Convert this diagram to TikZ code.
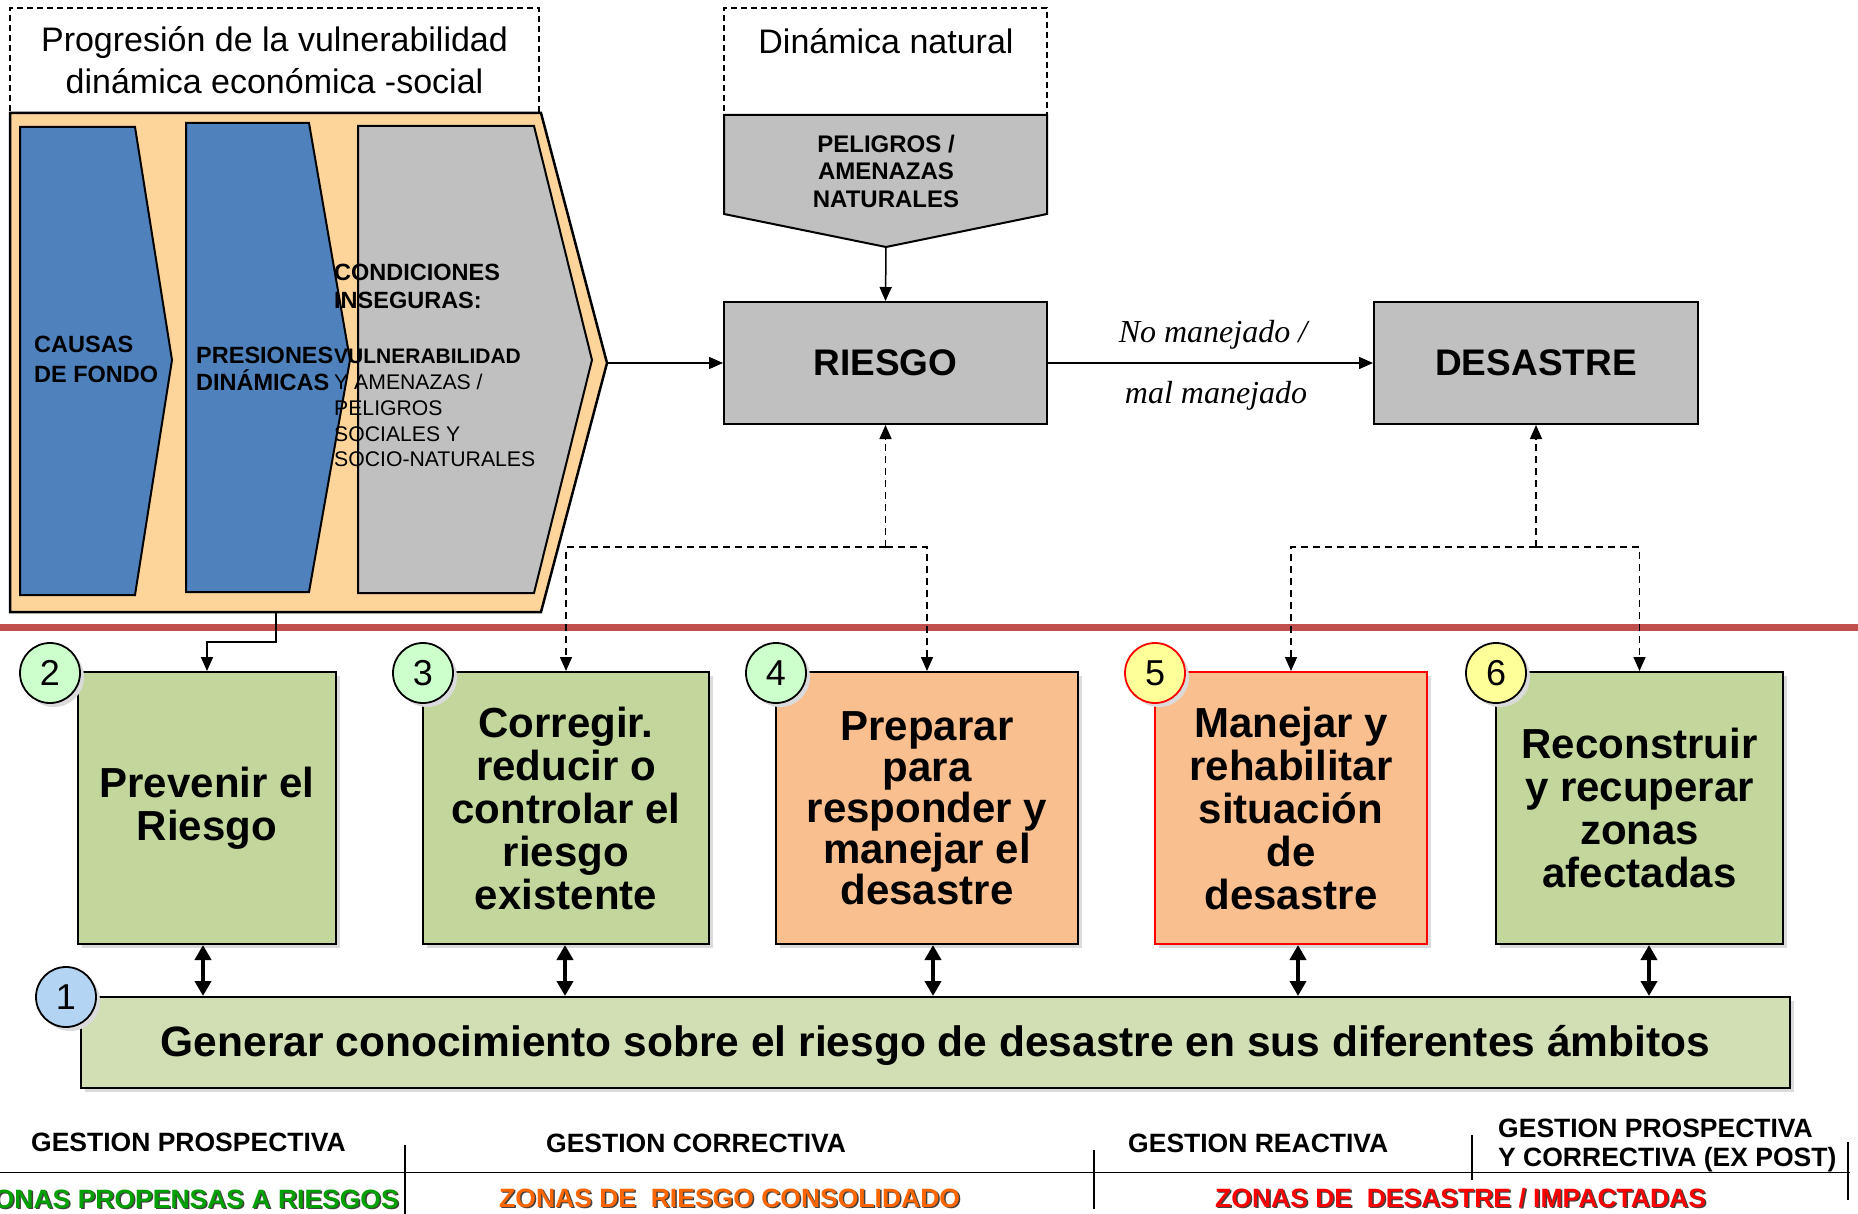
\documentclass[tikz,border=0pt]{standalone}
\usepackage{fontspec}
\setmainfont{Liberation Sans}
\newfontfamily\seriffam{Liberation Serif}
\usetikzlibrary{arrows.meta,shadows,calc}
\definecolor{orbg}{HTML}{FDD59B}
\definecolor{cblue}{HTML}{4F81BD}
\definecolor{cgray}{HTML}{C0C0C0}
\definecolor{bgreen}{HTML}{C3D69B}
\definecolor{borange}{HTML}{FABF8F}
\definecolor{bgen}{HTML}{D2DFB4}
\definecolor{cgreenc}{HTML}{CCFFCC}
\definecolor{cyel}{HTML}{FFFF99}
\definecolor{cbluec}{HTML}{B4D4F4}
\definecolor{redline}{HTML}{C0504D}
\definecolor{zgreen}{RGB}{0,160,0}
\definecolor{zorange}{RGB}{255,102,0}
\definecolor{zred}{RGB}{255,0,0}
\newcommand\myfs[2]{\fontsize{#1}{#2}\selectfont}
\begin{document}
\begin{tikzpicture}[x=1pt,y=-1pt,
  shad/.style={drop shadow={shadow xshift=4pt,shadow yshift=-4pt,fill=black!14,opacity=1}},
  boxst/.style={draw=black,line width=2pt,minimum height=272pt,align=center,inner sep=0pt,
    font={\bfseries\myfs{42}{43}},shad},
  circst/.style={circle,draw=black,line width=1.8pt,minimum size=60pt,inner sep=0pt,
    font={\myfs{36}{36}},shad},
  arr/.style={line width=1.5pt,-{Triangle[length=14pt,width=12pt]}},
  darr/.style={arr,dash pattern=on 7pt off 5pt},
  dblarr/.style={line width=4pt,{Triangle[length=15pt,width=16pt]}-{Triangle[length=15pt,width=16pt]}},
  chev/.style={line width=2pt,line join=miter},
  lbl/.style={inner sep=0pt,anchor=base west,font={\bfseries\myfs{23.5}{28}}},
  lbls/.style={inner sep=0pt,anchor=base west,font={\bfseries\myfs{21}{26}}},
  lblr/.style={inner sep=0pt,anchor=base west,font={\myfs{21.2}{26}}},
  gst/.style={inner sep=0pt,anchor=base west,font={\bfseries\myfs{26.5}{30}}},
  zst/.style={inner sep=0pt,font={\bfseries\myfs{26.5}{30}}}
]
\useasboundingbox (0,0) rectangle (1858,1214);
\fill[white] (0,0) rectangle (1858,1214);

% ---- left title box
\node[draw,dash pattern=on 6pt off 4pt,line width=1.5pt,minimum width=529pt,minimum height=105pt,
  inner sep=0pt,align=center,font={\myfs{34}{42}}] (ttl) at (274.5,60.5)
  {Progresión de la vulnerabilidad\\dinámica económica -social};

% ---- orange pentagon with chevrons
\draw[fill=orbg,line width=2.5pt,line join=miter] (10,113) -- (541,113) -- (607,363) -- (541,612) -- (10,612) -- cycle;
\coordinate (otip) at (607,363);
\coordinate (obot) at (276,612);
\coordinate (obend) at (276,642);
\draw[chev,fill=cblue] (20,127) -- (135,127) -- (172,360) -- (135,595) -- (20,595) -- cycle;
\draw[chev,fill=cblue] (186,123) -- (309,123) -- (350,360) -- (309,592) -- (186,592) -- cycle;
\draw[chev,fill=cgray] (358,126) -- (534,126) -- (592,360) -- (534,593) -- (358,593) -- cycle;

\node[lbl] (tc1) at (34,353) {CAUSAS};
\node[lbl] (tc2) at (34,383) {DE FONDO};
\node[lbl] (tp1) at (196,364) {PRESIONES};
\node[lbl] (tp2) at (196,391) {DINÁMICAS};
\node[lbl] (tq1) at (334,281) {CONDICIONES};
\node[lbl] (tq2) at (334,309) {INSEGURAS:};
\node[lbls] (tq3) at (334,364) {VULNERABILIDAD};
\node[lblr] (tq4) at (334,390) {Y AMENAZAS /};
\node[lblr] (tq5) at (334,415) {PELIGROS};
\node[lblr] (tq6) at (334,441) {SOCIALES Y};
\node[lblr] (tq7) at (334,466) {SOCIO-NATURALES};

% ---- natural dynamics
\node[draw,dash pattern=on 6pt off 4pt,line width=1.5pt,minimum width=323pt,minimum height=107pt,inner sep=0pt] (dnbox) at (885.5,61.5) {};
\node[inner sep=0pt,anchor=base,font={\myfs{34}{40}}] (dntxt) at (886,54) {Dinámica natural};
\draw[chev,fill=cgray] (724,115) -- (1047,115) -- (1047,214) -- (886,247) -- (724,214) -- cycle;
\coordinate (ptip) at (886,247);
\node[inner sep=0pt,align=center,font={\bfseries\myfs{24}{27.5}}] (pel) at (886,171) {PELIGROS /\\AMENAZAS\\NATURALES};

% ---- RIESGO / DESASTRE
\node[draw,fill=cgray,line width=2pt,minimum width=323pt,minimum height=122pt,font={\bfseries\myfs{37}{40}}] (rie) at (885.5,363) {RIESGO};
\node[draw,fill=cgray,line width=2pt,minimum width=324pt,minimum height=122pt,font={\bfseries\myfs{37}{40}}] (des) at (1536,363) {DESASTRE};
\draw[arr] (ptip) -- (rie.north);
\draw[arr] (otip) -- (rie.west);
\draw[arr] (rie.east) -- (des.west);
\node[inner sep=0pt,anchor=base,font={\seriffam\itshape\myfs{32}{36}}] (lab1) at (1213,343) {No manejado /};
\node[inner sep=0pt,anchor=base,font={\seriffam\itshape\myfs{32}{36}}] (lab2) at (1216,403) {mal manejado};

% ---- red separator
\draw[redline,line width=7pt] (0,627) -- (1858,627);

% ---- action boxes
\node[boxst,fill=bgreen,minimum width=258pt] (b2) at (207,808) {Prevenir el\\Riesgo};
\node[boxst,fill=bgreen,minimum width=286pt] (b3) at (566,808) {Corregir.\\reducir o\\controlar el\\riesgo\\existente};
\node[boxst,fill=borange,minimum width=302pt,font={\bfseries\myfs{42}{41}}] (b4) at (927,808) {Preparar\\para\\responder y\\manejar el\\desastre};
\node[boxst,fill=borange,draw=red,minimum width=272pt] (b5) at (1291,808) {Manejar y\\rehabilitar\\situación\\de\\desastre};
\node[boxst,fill=bgreen,minimum width=287pt] (b6) at (1639.5,808) {Reconstruir\\y recuperar\\zonas\\afectadas};
\node[boxst,fill=bgen,minimum width=1709pt,minimum height=91pt,font={\bfseries\myfs{42.5}{44}},
  text height=31pt,text depth=4pt] (gen) at (935.5,1042.5) {Generar conocimiento sobre el riesgo de desastre en sus diferentes ámbitos};

% ---- circles
\node[circst,fill=cgreenc] (c2) at (50,673) {2};
\node[circst,fill=cgreenc] (c3) at (423,673) {3};
\node[circst,fill=cgreenc] (c4) at (776,673) {4};
\node[circst,fill=cyel,draw=red] (c5) at (1155,673) {5};
\node[circst,fill=cyel] (c6) at (1496,673) {6};
\node[circst,fill=cbluec] (c1) at (66,997) {1};

% ---- connectors
\draw[arr] (obot) -- (obend) -| (b2.north);
\coordinate (j1) at (885.5,547);
\coordinate (j2) at (1536,547);
\draw[darr] (j1) -- (rie.south);
\draw[darr] (j1) -| (b3.north);
\draw[darr] (j1) -| (b4.north);
\draw[darr] (j2) -- (des.south);
\draw[darr] (j2) -| (b5.north);
\draw[darr] (j2) -| (b6.north);

\draw[dblarr] ([xshift=-4pt]b2.south) -- ([xshift=-4pt]b2.south |- gen.north);
\draw[dblarr] ([xshift=-1pt]b3.south) -- ([xshift=-1pt]b3.south |- gen.north);
\draw[dblarr] ([xshift=6pt]b4.south) -- ([xshift=6pt]b4.south |- gen.north);
\draw[dblarr] ([xshift=7pt]b5.south) -- ([xshift=7pt]b5.south |- gen.north);
\draw[dblarr] ([xshift=9.5pt]b6.south) -- ([xshift=9.5pt]b6.south |- gen.north);

% ---- bottom legend
\draw[double,double distance=1pt,line width=0.9pt] (0,1173) -- (1850,1173);
\draw[line width=1.5pt] (405,1145) -- (405,1214);
\draw[line width=1.5pt] (1094,1150) -- (1094,1209);
\draw[line width=1.5pt] (1472,1135) -- (1472,1180);
\draw[line width=1.5pt] (1848,1142) -- (1848,1200);

\node[gst] (g1) at (31,1151) {GESTION PROSPECTIVA};
\node[gst] (g2) at (546,1152) {GESTION CORRECTIVA};
\node[gst] (g3) at (1128,1152) {GESTION REACTIVA};
\node[gst] (g4) at (1498,1137) {GESTION PROSPECTIVA};
\node[gst] (g5) at (1498,1166) {Y CORRECTIVA (EX POST)};

\node[zst,anchor=base east,text=black!75] (z1s) at (400.5,1209.5) {ZONAS PROPENSAS A RIESGOS};
\node[zst,anchor=base east,text=zgreen] (z1) at (399,1208) {ZONAS PROPENSAS A RIESGOS};
\node[zst,anchor=base west,text=black!75] (z2s) at (500.5,1208.5) {ZONAS DE\ \ RIESGO CONSOLIDADO};
\node[zst,anchor=base west,text=zorange] (z2) at (499,1207) {ZONAS DE\ \ RIESGO CONSOLIDADO};
\node[zst,anchor=base west,text=black!75] (z3s) at (1216.5,1208.5) {ZONAS DE\ \ DESASTRE / IMPACTADAS};
\node[zst,anchor=base west,text=zred] (z3) at (1215,1207) {ZONAS DE\ \ DESASTRE / IMPACTADAS};
\end{tikzpicture}
\end{document}
